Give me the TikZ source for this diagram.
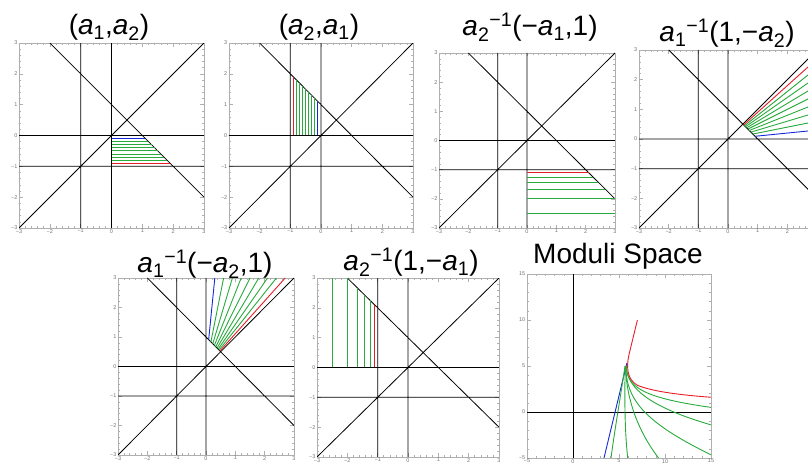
\documentclass[tikz,border=0pt]{standalone}
\usepackage{fontspec}
\setmainfont{Liberation Sans}
\usetikzlibrary{positioning}

\definecolor{mred}{RGB}{230,30,40}
\definecolor{mgreen}{RGB}{40,170,60}
\definecolor{mblue}{RGB}{20,40,220}
\definecolor{framegray}{RGB}{175,175,175}

\tikzset{
  frame/.style={framegray, line width=0.5pt},
  ticklab/.style={text=black!55, font=\fontsize{5.5}{5.5}\selectfont, inner sep=1pt},
  title/.style={font=\fontsize{28}{30}\selectfont, anchor=base},
  mline/.style={black, line width=0.8pt},
  fam/.style={line width=0.9pt},
}

% one colour per level a2 = -k/10
\newcommand{\famlist}{1/mblue,2/mgreen,3/mgreen,4/mgreen,5/mgreen,6/mgreen,7/mgreen,8/mgreen,9/mred}

% frame of a [-3,3]x[-3,3] plot, #1 = last labelled x tick, #2 = prefix for the label names
\newcommand{\plotframe}[2][3]{%
  \draw[frame] (-3,-3) rectangle (3,3);
  \foreach \t in {-2.8,-2.6,...,2.9}
    \draw[frame] (\t,-3) -- ++(0,0.06) (\t,3) -- ++(0,-0.06)
                 (-3,\t) -- ++(0.06,0) (3,\t) -- ++(-0.06,0);
  \foreach \t/\l in {-3/−3,-2/−2,-1/−1,0/0,1/1,2/2,3/3} {
    \draw[frame] (\t,-3) -- ++(0,0.12) (\t,3) -- ++(0,-0.12)
                 (-3,\t) -- ++(0.12,0) (3,\t) -- ++(-0.12,0);
    \ifnum\t>#1\relax\else
      \node[ticklab, below] (#2x\t) at (\t,-3) {\l};
    \fi
    \node[ticklab, left, inner xsep=1.5pt] (#2y\t) at (-3,\t) {\l};
  }
}

% the six black lines
\newcommand{\arrangement}{%
  \clip (-3,-3) rectangle (3,3);
  \draw[mline] (-1,-3) -- (-1,3) (0,-3) -- (0,3)
               (-3,0) -- (3,0) (-3,-1) -- (3,-1)
               (-3,-3) -- (3,3) (-2,3) -- (3,-2);
}

\begin{document}
\begin{tikzpicture}[x=1pt, y=1pt]
    \useasboundingbox (0,0) rectangle (808,465);
    \clip (0,0) rectangle (808,465);

    % titles
    \node[title] (t1) at (109,430) {(\textit{a}\textsubscript{1},\textit{a}\textsubscript{2})};
    \node[title] (t2) at (319,430) {(\textit{a}\textsubscript{2},\textit{a}\textsubscript{1})};
    \node[title] (t3) at (530,429) {\textit{a}\textsubscript{2}\textsuperscript{−1}(−\textit{a}\textsubscript{1},1)};
    \node[title] (t4) at (727,423) {\textit{a}\textsubscript{1}\textsuperscript{−1}(1,−\textit{a}\textsubscript{2})};
    \node[title] (t5) at (205,192) {\textit{a}\textsubscript{1}\textsuperscript{−1}(−\textit{a}\textsubscript{2},1)};
    \node[title] (t6) at (411,194) {\textit{a}\textsubscript{2}\textsuperscript{−1}(1,−\textit{a}\textsubscript{1})};
    \node[title] (t7) at (618,201) {Moduli Space};

    % (a1,a2)
    \begin{scope}[shift={(111.5pt,329.5pt)}, x=30.83pt, y=30.83pt]
        \plotframe{p1}
        \begin{scope}
            \arrangement
            \foreach \k/\c in \famlist
                \draw[fam, \c] (0,-\k/10) -- ({1+\k/10},-\k/10);
        \end{scope}
    \end{scope}

    % (a2,a1)
    \begin{scope}[shift={(321pt,329.5pt)}, x=30.67pt, y=30.83pt]
        \plotframe{p2}
        \begin{scope}
            \arrangement
            \foreach \k/\c in \famlist
                \draw[fam, \c] (-\k/10,0) -- (-\k/10,{1+\k/10});
        \end{scope}
    \end{scope}

    % a2^-1(-a1,1)
    \begin{scope}[shift={(527pt,324.5pt)}, x=29.33pt, y=29.17pt]
        \plotframe{p3}
        \begin{scope}
            \arrangement
            \foreach \k/\c in \famlist
                \draw[fam, \c] (0,-10/\k) -- ({(10+\k)/\k},-10/\k);
        \end{scope}
    \end{scope}

    % a1^-1(1,-a2), cut by the right edge
    \begin{scope}[shift={(728pt,326pt)}, x=29.67pt, y=29.67pt]
        \plotframe[2]{p4}
        \begin{scope}
            \arrangement
            \foreach \k/\c in \famlist
                \draw[fam, \c] ({10/(10+\k)},{\k/(10+\k)}) -- (3,{3*\k/10});
        \end{scope}
    \end{scope}

    % a1^-1(-a2,1)
    \begin{scope}[shift={(206pt,98.5pt)}, x=29.33pt, y=29.5pt]
        \plotframe{p5}
        \begin{scope}
            \arrangement
            \foreach \k/\c in \famlist
                \draw[fam, \c] ({\k/(10+\k)},{10/(10+\k)}) -- ({3*\k/10},3);
        \end{scope}
    \end{scope}

    % a2^-1(1,-a1)
    \begin{scope}[shift={(408pt,97.5pt)}, x=30.33pt, y=29.83pt]
        \plotframe{p6}
        \begin{scope}
            \arrangement
            \foreach \k/\c in \famlist
                \draw[fam, \c] (-10/\k,0) -- (-10/\k,{(10+\k)/\k});
        \end{scope}
    \end{scope}

    % moduli space, [-5,15]x[-5,15]
    \begin{scope}[shift={(573pt,53pt)}, x=9.2pt, y=9.2pt]
        \draw[frame] (-5,-5) rectangle (15,15);
        \foreach \t in {-4,...,14}
            \draw[frame] (\t,-5) -- ++(0,0.2) (\t,15) -- ++(0,-0.2)
                         (-5,\t) -- ++(0.2,0) (15,\t) -- ++(-0.2,0);
        \foreach \t/\l in {-5/−5,0/0,5/5,10/10,15/15} {
            \draw[frame] (\t,-5) -- ++(0,0.4) (\t,15) -- ++(0,-0.4)
                         (-5,\t) -- ++(0.4,0) (15,\t) -- ++(-0.4,0);
            \node[ticklab, below] (p7x\t) at (\t,-5) {\l};
            \node[ticklab, left, inner xsep=1.5pt] (p7y\t) at (-5,\t) {\l};
        }
        \begin{scope}
            \clip (-5,-5) rectangle (15,15);
            \draw[mline] (0,-5) -- (0,15) (-5,0) -- (15,0);
            \draw[fam, mblue] (3.37,-5) -- (5.85,5.3);
            \draw[fam, mgreen] (5.65,5.0) .. controls (5.3,2.5) and (4.6,-1.5) .. (4.13,-5);
            \draw[fam, mgreen] (5.68,5.0) .. controls (5.6,2) and (5.6,-2) .. (5.95,-5);
            \draw[fam, mgreen] (5.7,5.0) .. controls (5.8,1.5) and (7,-2) .. (9.3,-5);
            \draw[fam, mgreen] (5.72,5.0) .. controls (5.8,1.5) and (7.5,-1.0) .. (15,-4.65);
            \draw[fam, mgreen] (5.75,5.0) .. controls (5.9,2.5) and (8.5,0.5) .. (15,-1.4);
            \draw[fam, mgreen] (5.78,5.0) .. controls (5.95,2.8) and (7.2,1.6) .. (15,0.5);
            \draw[fam, mred] (7,10) -- (6.1,6.3) .. controls (5.8,5.0) and (5.8,3.6) .. (7.0,2.9)
                .. controls (8.5,2.3) and (11,1.9) .. (15,1.6);
        \end{scope}
    \end{scope}
\end{tikzpicture}
\end{document}
